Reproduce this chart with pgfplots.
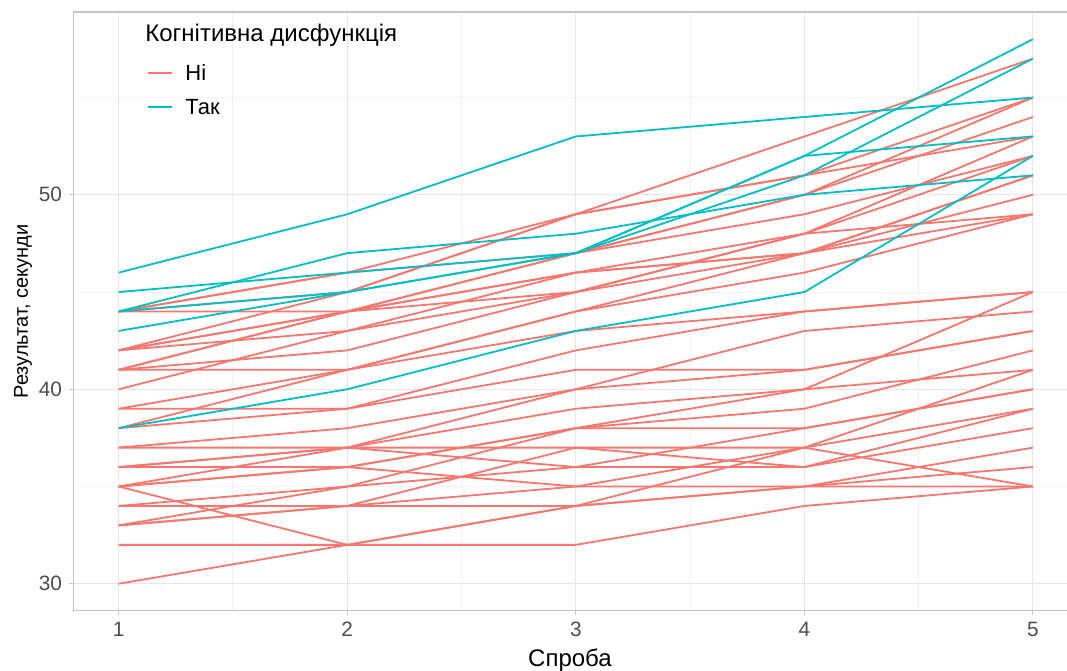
\documentclass[border=0pt]{standalone}
\usepackage{pgfplots}
\pgfplotsset{compat=1.18}
\usepackage{fontspec}
\setmainfont{Liberation Sans}
\definecolor{redl}{HTML}{F8766D}
\definecolor{bluel}{HTML}{00BFC4}
\definecolor{gridmaj}{HTML}{E6E6E6}
\definecolor{gridmin}{HTML}{F2F2F2}
\definecolor{border}{HTML}{C4C4C4}
\definecolor{ticklab}{HTML}{4D4D4D}
\newcommand{\R}[5]{\addplot[redl, line width=0.9pt, forget plot] coordinates {(1,#1) (2,#2) (3,#3) (4,#4) (5,#5)};}
\newcommand{\B}[5]{\addplot[bluel, line width=0.9pt, forget plot] coordinates {(1,#1) (2,#2) (3,#3) (4,#4) (5,#5)};}
\begin{document}
\begin{tikzpicture}
\begin{axis}[
  name=ax,
  scale only axis,
  width=497pt, height=299.5pt,
  xmin=0.8, xmax=5.149,
  ymin=28.6, ymax=59.4,
  xtick={1,2,3,4,5},
  ytick={30,40,50},
  minor xtick={1.5,2.5,3.5,4.5},
  minor ytick={35,45,55},
  grid=both,
  major grid style={gridmaj, line width=0.5pt},
  minor grid style={gridmin, line width=0.5pt},
  axis line style={draw=none},
  tick pos=left,
  tick align=outside,
  major tick length=2pt,
  minor tick length=0pt,
  tick style={border, line width=0.5pt},
  /pgf/number format/assume math mode=true,
  ticklabel style={font=\fontsize{10.4}{12}\selectfont, text=ticklab},
  xlabel={Спроба},
  ylabel={Результат, секунди},
  label style={font=\fontsize{12}{14}\selectfont},
  every axis x label/.append style={yshift=1pt},
  every axis y label/.style={at={(rel axis cs:0,0.5)}, xshift=-25pt, rotate=90, anchor=center},
  clip=true,
]
\draw[border, line width=0.6pt] (rel axis cs:1,1) -- (rel axis cs:0,1) -- (rel axis cs:0,0) -- (rel axis cs:1,0);
% Hi (red)
\R{44}{46}{49}{53}{57}
\R{44}{45}{49}{51}{55}
\R{44}{46}{47}{50}{54}
\R{44}{44}{45}{48}{53}
\R{42}{45}{49}{51}{53}
\R{42}{44}{47}{49}{52}
\R{42}{44}{46}{47}{51}
\R{42}{43}{45}{48}{49}
\R{41}{44}{47}{50}{55}
\R{41}{44}{46}{48}{52}
\R{41}{42}{45}{47}{51}
\R{41}{41}{44}{46}{49}
\R{40}{43}{46}{47}{50}
\R{39}{41}{44}{47}{49}
\R{38}{41}{43}{44}{45}
\R{39}{39}{42}{44}{45}
\R{38}{39}{41}{41}{43}
\R{37}{38}{40}{43}{44}
\R{36}{37}{40}{41}{43}
\R{35}{37}{39}{40}{45}
\R{35}{36}{38}{39}{42}
\R{36}{36}{38}{40}{41}
\R{35}{32}{34}{37}{41}
\R{34}{35}{38}{38}{40}
\R{33}{34}{37}{37}{39}
\R{33}{35}{36}{36}{39}
\R{32}{32}{32}{34}{35}
\R{30}{32}{34}{35}{37}
\R{37}{37}{36}{38}{40}
\R{36}{37}{37}{36}{38}
\R{35}{36}{35}{35}{36}
\R{34}{34}{34}{35}{35}
\R{33}{34}{35}{37}{35}
% Tak (blue)
\B{46}{49}{53}{54}{55}
\B{44}{47}{48}{50}{51}
\B{45}{46}{47}{52}{58}
\B{43}{45}{47}{52}{53}
\B{38}{40}{43}{45}{52}
\B{44}{45}{47}{51}{57}
% legend
\node[anchor=base west, font=\fontsize{12}{14}\selectfont, inner sep=0pt] at (rel axis cs:0.0724,0.95) {Когнітивна дисфункція};
\draw[redl, line width=0.9pt] (rel axis cs:0.07545,0.8982) -- (rel axis cs:0.0996,0.8982);
\draw[bluel, line width=0.9pt] (rel axis cs:0.07545,0.8414) -- (rel axis cs:0.0996,0.8414);
\node[anchor=base west, font=\fontsize{11}{13}\selectfont, inner sep=0pt] at (rel axis cs:0.1127,0.8856) {Ні};
\node[anchor=base west, font=\fontsize{11}{13}\selectfont, inner sep=0pt] at (rel axis cs:0.1127,0.8289) {Так};
\end{axis}
\pgfresetboundingbox
\path ([xshift=-36.5pt,yshift=-30pt]ax.south west) rectangle ([yshift=6pt]ax.north east);
\end{tikzpicture}
\end{document}
